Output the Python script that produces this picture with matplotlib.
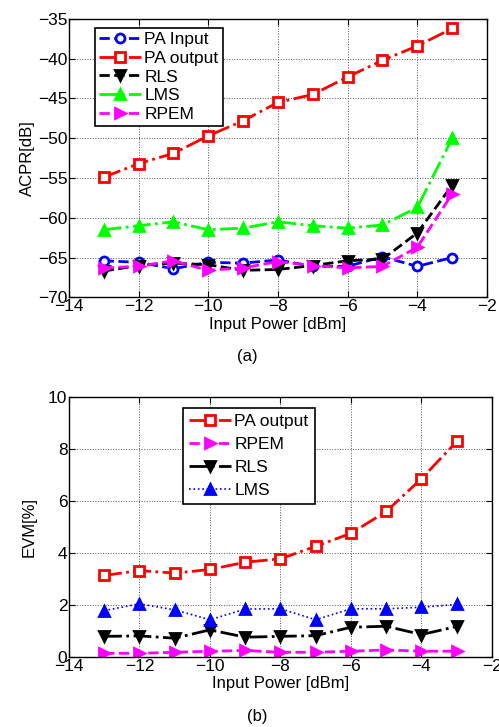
import matplotlib
matplotlib.use("Agg")
import matplotlib.pyplot as plt

plt.rcParams["font.family"] = ["Liberation Sans", "DejaVu Sans"]

# input power sweep shared by both panels
power_dbm = [-13, -12, -11, -10, -9, -8, -7, -6, -5, -4, -3]

# (a) ACPR [dB]
acpr_pa_input = [-65.4, -65.6, -66.4, -65.6, -65.7, -65.3, -66.1, -66.1, -64.9, -66.1, -65.0]
acpr_pa_output = [-54.9, -53.2, -51.9, -49.7, -47.8, -45.5, -44.5, -42.3, -40.2, -38.4, -36.2]
acpr_rls = [-66.7, -66.0, -65.7, -65.9, -66.6, -66.5, -66.0, -65.4, -65.2, -61.9, -55.9]
acpr_lms = [-61.5, -61.0, -60.5, -61.5, -61.3, -60.5, -61.0, -61.3, -60.9, -58.7, -50.0]
acpr_rpem = [-66.3, -66.1, -65.4, -66.6, -66.3, -65.5, -66.0, -66.3, -66.1, -63.7, -57.0]

# (b) EVM [%]
evm_pa_output = [3.14, 3.33, 3.23, 3.37, 3.65, 3.78, 4.26, 4.76, 5.60, 6.86, 8.29]
evm_rpem = [0.15, 0.15, 0.19, 0.23, 0.26, 0.19, 0.19, 0.23, 0.28, 0.23, 0.23]
evm_rls = [0.80, 0.82, 0.73, 1.05, 0.77, 0.80, 0.83, 1.15, 1.19, 0.87, 1.18]
evm_lms = [1.79, 2.05, 1.82, 1.44, 1.85, 1.86, 1.44, 1.86, 1.86, 1.92, 2.03]

fig = plt.figure(figsize=(4.99, 7.27), dpi=100)
ax1 = fig.add_axes([0.138, 0.591, 0.838, 0.383])
ax2 = fig.add_axes([0.138, 0.096, 0.848, 0.358])


def curve(ax, y, color, ls, marker, label, face=None, lw=2.0):
    ax.plot(power_dbm, y, color=color, linestyle=ls, linewidth=lw,
            marker=marker, markersize=6.5, markeredgewidth=2.0,
            markerfacecolor=face or color, markeredgecolor=color, label=label)


curve(ax1, acpr_pa_input, "#0000ff", "--", "o", "PA Input", face="white")
curve(ax1, acpr_pa_output, "#ff0000", "-.", "s", "PA output", face="white")
curve(ax1, acpr_rls, "black", "--", "v", "RLS")
curve(ax1, acpr_lms, "#00ff00", "-.", "^", "LMS")
curve(ax1, acpr_rpem, "#ff00ff", "--", ">", "RPEM")

curve(ax2, evm_pa_output, "#ff0000", "-.", "s", "PA output", face="white")
curve(ax2, evm_rpem, "#ff00ff", "--", ">", "RPEM")
curve(ax2, evm_rls, "black", "-.", "v", "RLS")
curve(ax2, evm_lms, "#0000ff", ":", "^", "LMS", lw=1.2)

ax1.set_xlim(-14, -2)
ax1.set_ylim(-70, -35)
ax1.set_yticks(range(-70, -34, 5))
ax1.set_ylabel("ACPR[dB]", fontsize=12, labelpad=2)

ax2.set_xlim(-14, -2)
ax2.set_ylim(0, 10)
ax2.set_yticks(range(0, 11, 2))
ax2.set_ylabel("EVM[%]", fontsize=12, labelpad=8)

for ax in (ax1, ax2):
    ax.set_xticks(range(-14, -1, 2))
    ax.set_xlabel("Input Power [dBm]", fontsize=12, labelpad=2)
    ax.grid(True, linestyle=":", color="#555555", linewidth=0.7)
    ax.tick_params(direction="in", top=True, right=True, labelsize=12.5,
                   length=4, pad=1)
    for sp in ax.spines.values():
        sp.set_linewidth(1.0)

leg1 = ax1.legend(loc="upper left", bbox_to_anchor=(0.062, 0.968), fontsize=12.5,
                  handlelength=2.4, handletextpad=0.2, labelspacing=0.2,
                  borderpad=0.25, borderaxespad=0, fancybox=False,
                  edgecolor="black", framealpha=1)
leg1.get_frame().set_linewidth(1.2)
leg2 = ax2.legend(loc="upper left", bbox_to_anchor=(0.27, 0.958), fontsize=12.5,
                  handlelength=2.4, handletextpad=0.2, labelspacing=0.45,
                  borderpad=0.35, borderaxespad=0, fancybox=False,
                  edgecolor="black", framealpha=1)
leg2.get_frame().set_linewidth(1.2)

fig.text(0.495, 1 - 356 / 727, "(a)", ha="center", va="center", fontsize=12)
fig.text(0.515, 1 - 717 / 727, "(b)", ha="center", va="center", fontsize=12)

fig.savefig("out.png", dpi=100)
